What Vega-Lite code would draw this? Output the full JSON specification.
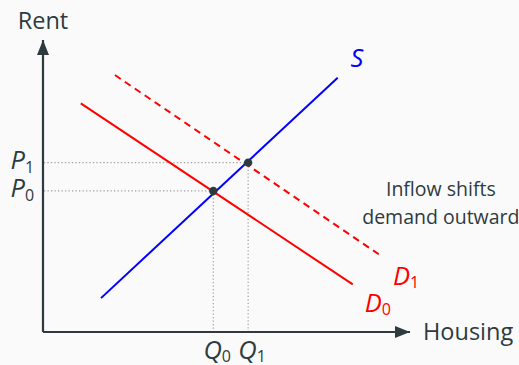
{
  "$schema": "https://vega.github.io/schema/vega-lite/v6.json",
  "width": 367,
  "height": 292,
  "autosize": {"type": "none"},
  "padding": {"left": 43, "top": 40, "right": 109, "bottom": 33},
  "background": "#fafafa",
  "config": {"view": {"stroke": null}, "font": "Open Sans"},
  "datasets": {
    "curves": [
      {"curve": "S", "x": 1.58, "y": 1.16},
      {"curve": "S", "x": 8.03, "y": 8.71},
      {"curve": "D0", "x": 1.03, "y": 7.83},
      {"curve": "D0", "x": 8.44, "y": 1.63},
      {"curve": "D1", "x": 1.96, "y": 8.80},
      {"curve": "D1", "x": 9.21, "y": 2.61}
    ],
    "eq": [
      {"q": 4.64, "p": 4.83, "qlab": "Q", "plab": "P", "sub": "0"},
      {"q": 5.59, "p": 5.80, "qlab": "Q", "plab": "P", "sub": "1"}
    ],
    "curvelabels": [
      {"label": "S", "sub": "", "x": 8.73, "y": 9.07, "c": "#0000ff"},
      {"label": "D", "sub": "1", "x": 10.0, "y": 1.61, "c": "#ff0000"},
      {"label": "D", "sub": "0", "x": 9.23, "y": 0.70, "c": "#ff0000"}
    ],
    "axes": [
      {"name": "Rent", "x": 0, "y": 10, "shape": "M0,0L-0.8,2L0.8,2Z"},
      {"name": "Housing", "x": 10, "y": 0, "shape": "M0,0L-2,-0.8L-2,0.8Z"}
    ]
  },
  "encoding": {
    "x": {"type": "quantitative", "scale": {"domain": [0, 10]}, "axis": null},
    "y": {"type": "quantitative", "scale": {"domain": [0, 10]}, "axis": null}
  },
  "layer": [
    {
      "data": {"name": "eq"},
      "mark": {"type": "rule", "color": "#a0a0a0", "strokeWidth": 1.2, "strokeDash": [1.3, 2.2]},
      "encoding": {
        "x": {"field": "q", "type": "quantitative"},
        "x2": {"datum": 0},
        "y": {"field": "p", "type": "quantitative"}
      }
    },
    {
      "data": {"name": "eq"},
      "mark": {"type": "rule", "color": "#a0a0a0", "strokeWidth": 1.2, "strokeDash": [1.3, 2.2]},
      "encoding": {
        "x": {"field": "q", "type": "quantitative"},
        "y": {"field": "p", "type": "quantitative"},
        "y2": {"datum": 0}
      }
    },
    {
      "data": {"name": "curves"},
      "transform": [{"filter": "datum.curve === 'S'"}],
      "mark": {"type": "line", "strokeWidth": 2, "color": "#0000ff"},
      "encoding": {
        "x": {"field": "x", "type": "quantitative"},
        "y": {"field": "y", "type": "quantitative"}
      }
    },
    {
      "data": {"name": "curves"},
      "transform": [{"filter": "datum.curve === 'D0'"}],
      "mark": {"type": "line", "strokeWidth": 2, "color": "#ff0000"},
      "encoding": {
        "x": {"field": "x", "type": "quantitative"},
        "y": {"field": "y", "type": "quantitative"}
      }
    },
    {
      "data": {"name": "curves"},
      "transform": [{"filter": "datum.curve === 'D1'"}],
      "mark": {"type": "line", "strokeWidth": 2, "color": "#ff0000", "strokeDash": [7, 5]},
      "encoding": {
        "x": {"field": "x", "type": "quantitative"},
        "y": {"field": "y", "type": "quantitative"}
      }
    },
    {
      "data": {"name": "eq"},
      "mark": {"type": "point", "filled": true, "size": 70, "color": "#2e3b3e", "opacity": 1},
      "encoding": {
        "x": {"field": "q", "type": "quantitative"},
        "y": {"field": "p", "type": "quantitative"}
      }
    },
    {
      "data": {"name": "axes"},
      "mark": {"type": "rule", "color": "#2e3b3e", "strokeWidth": 2.2},
      "encoding": {
        "x": {"field": "x", "type": "quantitative"},
        "y": {"field": "y", "type": "quantitative"},
        "x2": {"datum": 0},
        "y2": {"datum": 0}
      }
    },
    {
      "data": {"name": "axes"},
      "mark": {"type": "point", "filled": true, "size": 225, "color": "#2e3b3e", "opacity": 1, "strokeWidth": 0},
      "encoding": {
        "x": {"field": "x", "type": "quantitative"},
        "y": {"field": "y", "type": "quantitative"},
        "shape": {"field": "shape", "type": "nominal", "scale": null}
      }
    },
    {
      "data": {"name": "axes"},
      "transform": [{"filter": "datum.name === 'Rent'"}],
      "mark": {"type": "text", "fontSize": 23.5, "color": "#2e3b3e", "align": "center", "baseline": "alphabetic", "dy": -11.5},
      "encoding": {
        "x": {"field": "x", "type": "quantitative"},
        "y": {"field": "y", "type": "quantitative"},
        "text": {"field": "name"}
      }
    },
    {
      "data": {"name": "axes"},
      "transform": [{"filter": "datum.name === 'Housing'"}],
      "mark": {"type": "text", "fontSize": 23.5, "color": "#2e3b3e", "align": "left", "baseline": "alphabetic", "dx": 13, "dy": 7.5},
      "encoding": {
        "x": {"field": "x", "type": "quantitative"},
        "y": {"field": "y", "type": "quantitative"},
        "text": {"field": "name"}
      }
    },
    {
      "data": {"name": "eq"},
      "mark": {"type": "text", "fontSize": 25.5, "fontStyle": "italic", "color": "#2e3b3e", "align": "right", "baseline": "alphabetic", "dx": 8.5, "dy": 27},
      "encoding": {
        "x": {"field": "q", "type": "quantitative"},
        "y": {"datum": 0, "type": "quantitative"},
        "text": {"field": "qlab"}
      }
    },
    {
      "data": {"name": "eq"},
      "mark": {"type": "text", "fontSize": 16, "color": "#2e3b3e", "align": "left", "baseline": "alphabetic", "dx": 8.5, "dy": 29.5},
      "encoding": {
        "x": {"field": "q", "type": "quantitative"},
        "y": {"datum": 0, "type": "quantitative"},
        "text": {"field": "sub"}
      }
    },
    {
      "data": {"name": "eq"},
      "mark": {"type": "text", "fontSize": 25.5, "fontStyle": "italic", "color": "#2e3b3e", "align": "right", "baseline": "alphabetic", "dx": -18, "dy": 6.5},
      "encoding": {
        "x": {"datum": 0, "type": "quantitative"},
        "y": {"field": "p", "type": "quantitative"},
        "text": {"field": "plab"}
      }
    },
    {
      "data": {"name": "eq"},
      "mark": {"type": "text", "fontSize": 16, "color": "#2e3b3e", "align": "left", "baseline": "alphabetic", "dx": -18, "dy": 10.5},
      "encoding": {
        "x": {"datum": 0, "type": "quantitative"},
        "y": {"field": "p", "type": "quantitative"},
        "text": {"field": "sub"}
      }
    },
    {
      "data": {"name": "curvelabels"},
      "mark": {"type": "text", "fontSize": 25.5, "fontStyle": "italic", "align": "right", "baseline": "alphabetic"},
      "encoding": {
        "x": {"field": "x", "type": "quantitative"},
        "y": {"field": "y", "type": "quantitative"},
        "text": {"field": "label"},
        "color": {"field": "c", "type": "nominal", "scale": null}
      }
    },
    {
      "data": {"name": "curvelabels"},
      "mark": {"type": "text", "fontSize": 16, "align": "left", "baseline": "alphabetic", "dy": 3},
      "encoding": {
        "x": {"field": "x", "type": "quantitative"},
        "y": {"field": "y", "type": "quantitative"},
        "text": {"field": "sub"},
        "color": {"field": "c", "type": "nominal", "scale": null}
      }
    },
    {
      "data": {"values": [{"note": ["Inflow shifts", "demand outward"], "x": 10.84, "y": 4.67}]},
      "mark": {"type": "text", "fontSize": 19.5, "color": "#2e3b3e", "align": "center", "baseline": "alphabetic", "lineHeight": 28.5},
      "encoding": {
        "x": {"field": "x", "type": "quantitative"},
        "y": {"field": "y", "type": "quantitative"},
        "text": {"field": "note"}
      }
    }
  ]
}
